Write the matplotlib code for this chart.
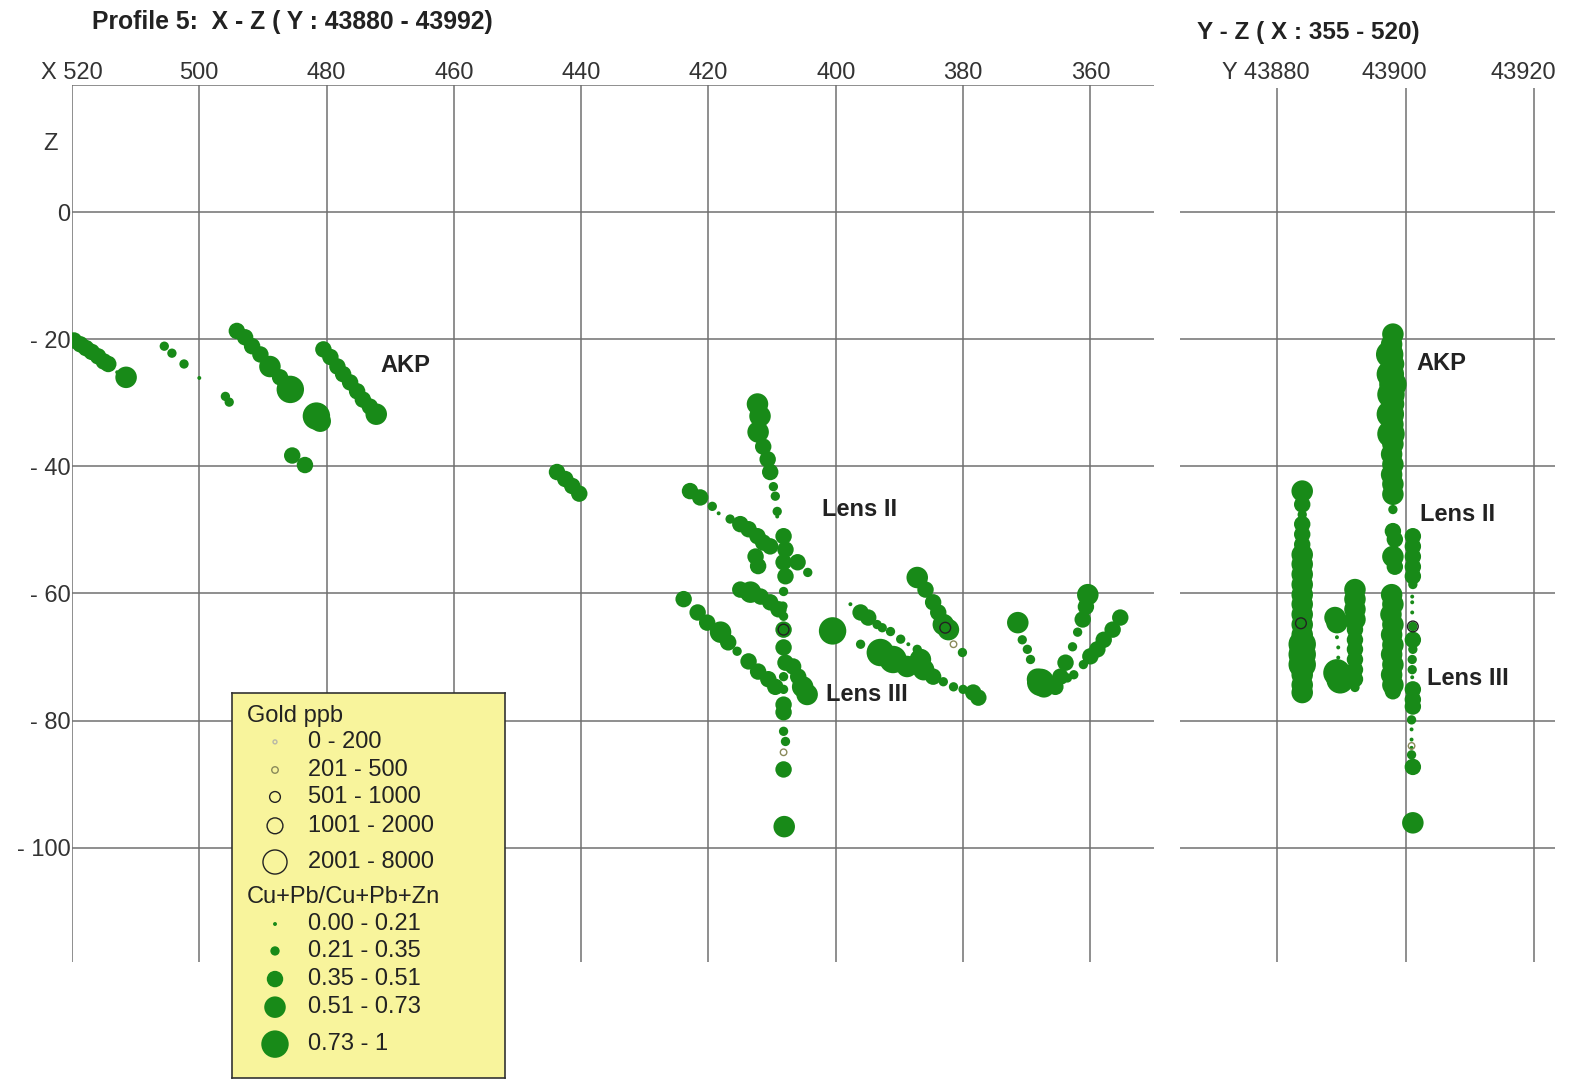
import numpy as np
import matplotlib
matplotlib.use('Agg')
import matplotlib.pyplot as plt
import matplotlib.transforms as mtransforms

plt.rcParams['font.family'] = ['Liberation Sans', 'DejaVu Sans']

# ---- X-Z profile: drill-hole samples (X, Z, Cu+Pb/Cu+Pb+Zn class 0..4)
xz_x = [519.7, 518.7, 517.8, 516.9, 515.9, 515.0, 514.3, 512.9, 511.5,
        505.5, 504.3, 502.4, 500.0, 495.9, 495.3,
        494.1, 492.8, 491.7, 490.4, 488.9, 487.3, 485.7, 481.6, 481.0,
        485.4, 483.4,
        480.5, 479.4, 478.3, 477.4, 476.3, 475.2, 474.3, 473.2, 472.2,
        443.8, 442.5, 441.4, 440.3,
        412.3, 411.9, 412.2, 411.4, 410.7, 410.3, 409.8, 409.5, 409.2, 409.2,
        422.9, 421.3, 419.4, 418.4, 416.6, 415.0, 413.7, 412.3, 411.4, 410.3,
        412.6, 412.2,
        408.2, 407.9, 408.2, 407.9, 408.2, 408.3, 408.2, 408.2, 407.9, 408.2,
        408.2, 408.2, 408.2, 408.2, 407.9, 408.2, 408.1, 406.0, 404.4, 408.2,
        415.0, 413.4, 411.8, 410.3, 409.0,
        423.9, 421.7, 420.2, 418.1, 416.9, 415.5, 413.7, 412.2, 410.6, 409.5,
        406.7, 405.9, 405.2, 404.5,
        400.5,
        397.7, 396.1, 394.9, 393.5, 392.7, 391.4, 389.8, 388.6, 387.2, 396.1,
        393.0, 391.0, 388.8, 386.7, 386.2, 384.7, 383.1, 381.5, 380.0, 378.4,
        377.6,
        387.2, 385.9, 384.7, 383.9, 383.1, 382.3, 380.1,
        371.4, 370.7, 369.9, 369.4, 368.3, 367.8, 367.3,
        360.4, 360.7, 361.2, 362.0, 362.8, 363.9, 364.7, 365.5,
        355.3, 356.5, 357.9, 358.9, 360.0, 361.1, 362.6, 363.6]
xz_z = [-20.2, -20.8, -21.4, -22.0, -22.7, -23.5, -23.9, -25.2, -26.0,
        -21.1, -22.2, -23.9, -26.1, -29.0, -29.9,
        -18.7, -19.7, -21.1, -22.4, -24.3, -26.0, -27.9, -32.1, -32.9,
        -38.3, -39.8,
        -21.6, -22.8, -24.3, -25.5, -26.8, -28.2, -29.5, -30.6, -31.8,
        -40.9, -42.0, -43.1, -44.3,
        -30.2, -32.1, -34.6, -36.9, -38.9, -40.9, -43.2, -44.7, -47.1, -47.9,
        -43.9, -44.9, -46.3, -47.4, -48.3, -49.1, -49.9, -51.0, -52.0, -52.6,
        -54.2, -55.7,
        -51.0, -53.1, -55.1, -57.3, -59.7, -62.0, -63.6, -68.5, -70.9, -73.1,
        -75.1, -77.5, -78.7, -81.7, -83.3, -87.7, -96.7, -55.1, -56.7, -65.7,
        -59.4, -59.8, -60.5, -61.4, -62.5,
        -60.9, -63.0, -64.6, -66.1, -67.7, -69.1, -70.7, -72.3, -73.5, -74.7,
        -71.5, -73.1, -74.7, -75.9,
        -65.9,
        -61.7, -63.0, -63.8, -64.9, -65.4, -66.0, -67.2, -68.0, -68.8, -68.0,
        -69.3, -70.4, -71.5, -70.4, -72.0, -73.1, -73.9, -74.7, -75.1, -75.6,
        -76.4,
        -57.5, -59.4, -61.4, -63.0, -64.9, -65.7, -69.3,
        -64.6, -67.3, -68.8, -70.4, -73.5, -74.0, -74.7,
        -60.2, -62.1, -64.1, -66.1, -68.4, -70.9, -73.1, -74.7,
        -63.8, -65.7, -67.3, -68.8, -69.9, -71.2, -72.8, -73.3]
xz_cls = [2, 2, 2, 2, 2, 2, 2, 0, 3,
          1, 1, 1, 0, 1, 1,
          2, 2, 2, 2, 3, 2, 4, 4, 3,
          2, 2,
          2, 2, 2, 2, 2, 2, 2, 2, 3,
          2, 2, 2, 2,
          3, 3, 3, 2, 2, 2, 1, 1, 1, 0,
          2, 2, 1, 0, 1, 2, 2, 2, 2, 2,
          2, 2,
          2, 2, 2, 2, 1, 1, 1, 2, 2, 1,
          1, 2, 2, 1, 1, 2, 3, 2, 1, 2,
          2, 3, 2, 2, 2,
          2, 2, 2, 3, 2, 1, 2, 2, 2, 2,
          2, 2, 3, 3,
          4,
          0, 2, 2, 1, 1, 1, 1, 0, 1, 1,
          4, 4, 3, 3, 3, 2, 1, 1, 1, 2,
          2,
          3, 2, 2, 2, 3, 3, 1,
          3, 1, 1, 1, 3, 4, 3,
          3, 2, 2, 1, 1, 2, 2, 2,
          2, 2, 2, 2, 2, 1, 1, 1]

# gold ppb (X, Z, class 0..4)
xz_au_x = [408.2, 382.8, 381.5, 408.2]
xz_au_z = [-65.7, -65.4, -68.0, -85.0]
xz_au_cls = [2, 2, 1, 1]

# ---- Y-Z profile
yz_y = [43898.0, 43897.8, 43897.5, 43898.1, 43897.6, 43898.0, 43897.7, 43898.1,
        43897.6, 43898.0, 43897.7, 43898.0, 43897.8, 43898.0, 43897.8, 43898.0,
        43898.0, 43898.0, 43898.0, 43898.3, 43898.0, 43898.3,
        43897.8, 43898.0, 43897.7, 43898.0, 43897.8, 43898.0, 43897.8, 43898.0,
        43897.8, 43898.0, 43898.0,
        43901.1, 43901.1, 43901.1, 43901.1, 43901.1, 43901.1, 43901.0, 43901.0,
        43901.0, 43901.1, 43901.1, 43901.0, 43901.0, 43901.0, 43901.1, 43901.1,
        43901.1, 43900.9, 43900.9, 43900.9, 43900.9, 43900.9, 43901.1, 43901.1,
        43901.1,
        43883.9, 43883.9, 43883.9, 43883.9, 43883.9, 43883.9, 43883.9, 43883.9,
        43883.9, 43883.9, 43883.9, 43883.9, 43883.9, 43883.9, 43883.9, 43883.9,
        43883.9, 43883.9, 43883.9, 43883.9, 43883.9,
        43889.0, 43889.3, 43889.3, 43889.5, 43889.5, 43889.3, 43889.8,
        43892.1, 43892.1, 43892.1, 43892.1, 43892.1, 43892.1, 43892.1, 43892.1,
        43892.1, 43892.1, 43892.1]
yz_z = [-19.2, -20.8, -22.4, -23.9, -25.5, -27.1, -28.7, -30.2,
        -31.8, -33.4, -34.9, -36.5, -38.1, -39.7, -41.3, -42.8,
        -44.4, -46.8, -50.2, -51.5, -54.2, -55.8,
        -60.2, -61.7, -63.3, -64.9, -66.5, -68.1, -69.6, -71.2,
        -72.8, -74.4, -75.4,
        -51.0, -52.6, -54.2, -55.8, -57.3, -58.6, -60.5, -61.4,
        -63.0, -67.3, -68.8, -70.4, -72.0, -73.2, -75.1, -76.7,
        -77.8, -79.9, -81.4, -83.0, -84.3, -85.4, -87.3, -96.1,
        -65.2,
        -43.9, -46.0, -47.6, -49.1, -50.7, -52.3, -53.9, -55.4,
        -57.0, -58.6, -60.2, -61.7, -63.3, -64.9, -66.5, -68.0,
        -69.6, -71.2, -72.8, -74.4, -75.6,
        -63.8, -64.6, -66.9, -68.5, -70.1, -72.5, -73.6,
        -59.4, -60.9, -62.5, -64.1, -65.7, -67.3, -68.8, -70.4,
        -72.0, -73.5, -74.8]
yz_cls = [3, 3, 4, 3, 4, 4, 4, 3,
          4, 3, 4, 3, 3, 3, 3, 3,
          3, 1, 2, 2, 3, 2,
          3, 3, 3, 3, 3, 3, 3, 3,
          3, 3, 2,
          2, 2, 2, 2, 2, 1, 0, 0,
          0, 2, 1, 1, 1, 0, 2, 2,
          2, 1, 0, 0, 0, 1, 2, 3,
          1,
          3, 2, 1, 2, 2, 2, 3, 3,
          3, 3, 3, 3, 3, 3, 3, 4,
          4, 4, 3, 3, 3,
          3, 3, 0, 0, 0, 4, 4,
          3, 3, 3, 3, 2, 2, 2, 2,
          2, 2, 1]

yz_au_y = [43901.1, 43883.7, 43900.9]
yz_au_z = [-65.2, -64.7, -84.0]
yz_au_cls = [2, 2, 1]

# legend classes
gold_labels = ['0 - 200', '201 - 500', '501 - 1000', '1001 - 2000', '2001 - 8000']
ratio_labels = ['0.00 - 0.21', '0.21 - 0.35', '0.35 - 0.51', '0.51 - 0.73', '0.73 - 1']

x_ticks = [520, 500, 480, 460, 440, 420, 400, 380, 360]
x_ticklabels = ['X 520', '500', '480', '460', '440', '420', '400', '380', '360']
y_ticks = [43880, 43900, 43920]
y_ticklabels = ['Y 43880', '43900', '43920']
z_ticks = [0, -20, -40, -60, -80, -100]
z_ticklabels = ['0', '- 20', '- 40', '- 60', '- 80', '- 100']

# styles
green = '#188a18'
ratio_size = [8, 45, 140, 240, 390]
gold_size = [8, 22, 60, 130, 300]
gold_edge = ['#b8b8a8', '#8a8a5a', '#222222', '#222222', '#222222']
grid_c = '#707070'
fs = 17

W, H = 1569, 1085
fig = plt.figure(figsize=(W / 100, H / 100), dpi=100)
fig.patch.set_facecolor('white')


def frame(ax, xt, xl, top_line):
    ax.set_facecolor('none')
    for s in ax.spines.values():
        s.set_visible(False)
    ax.set_ylim(-118, 20)
    for v in xt:
        ax.plot([v, v], [-118, 20 if top_line else 19.5], color=grid_c, lw=1.1,
                zorder=1, solid_capstyle='butt')
    hl = z_ticks + ([20] if top_line else [])
    for h in hl:
        ax.axhline(h, color=grid_c, lw=1.1, zorder=1)
    ax.xaxis.tick_top()
    ax.set_xticks(xt)
    ax.set_xticklabels(xl)
    ax.tick_params(length=0, labelsize=fs, labelcolor='#333333', pad=1)


def draw_points(ax, px, pz, cls, ax_x, az, acls):
    ax.scatter(px, pz, s=[ratio_size[c] for c in cls], color=green,
               edgecolors='none', zorder=3)
    ax.scatter(ax_x, az, s=[gold_size[c] for c in acls], facecolors='none',
               edgecolors=[gold_edge[c] for c in acls], linewidths=1.0, zorder=4)


# left panel X-Z
ax1 = fig.add_axes([72 / W, 1 - 962 / H, 1082 / W, 877 / H])
ax1.set_xlim(520, 350)
frame(ax1, x_ticks, x_ticklabels, True)
ax1.set_yticks(z_ticks)
ax1.set_yticklabels(z_ticklabels)
ax1.text(522.3, 10.7, 'Z', ha='right', va='center', fontsize=fs, color='#333333')
draw_points(ax1, xz_x, xz_z, xz_cls, xz_au_x, xz_au_z, xz_au_cls)
ax1.text(471.6, -24.2, 'AKP', fontsize=fs, fontweight='bold', va='center', color='#222222')
ax1.text(402.1, -46.8, 'Lens II', fontsize=fs, fontweight='bold', va='center', color='#222222')
ax1.text(401.5, -75.9, 'Lens III', fontsize=fs, fontweight='bold', va='center', color='#222222')

# right panel Y-Z
ax2 = fig.add_axes([1180 / W, 1 - 962 / H, 375 / W, 877 / H])
ax2.set_xlim(43864.9, 43923.2)
frame(ax2, y_ticks, y_ticklabels, False)
ax2.set_yticks([])
shift = mtransforms.ScaledTranslation(-11 / 100, 0, fig.dpi_scale_trans)
for lab in ax2.get_xticklabels():
    lab.set_transform(lab.get_transform() + shift)
draw_points(ax2, yz_y, yz_z, yz_cls, yz_au_y, yz_au_z, yz_au_cls)
ax2.text(43901.6, -23.8, 'AKP', fontsize=fs, fontweight='bold', va='center', color='#222222')
ax2.text(43902.2, -47.6, 'Lens II', fontsize=fs, fontweight='bold', va='center', color='#222222')
ax2.text(43903.3, -73.4, 'Lens III', fontsize=fs, fontweight='bold', va='center', color='#222222')

# titles
fig.text(92 / W, 1 - 22 / H, 'Profile 5:  X - Z ( Y : 43880 - 43992)', fontsize=17.8,
         fontweight='bold', va='center', ha='left', color='#222222')
fig.text(1197 / W, 1 - 33 / H, 'Y - Z ( X : 355 - 520)', fontsize=17.5,
         fontweight='bold', va='center', ha='left', color='#222222')

# legend box
lg = fig.add_axes([232 / W, 1 - 1078 / H, 273 / W, 385 / H])
lg.set_facecolor('#f8f49c')
lg.set_xlim(0, 1)
lg.set_ylim(0, 1)
lg.set_xticks([])
lg.set_yticks([])
for s in lg.spines.values():
    s.set_color('#333333')
    s.set_linewidth(1.2)
gold_rows = [0.873, 0.800, 0.730, 0.655, 0.561]
ratio_rows = [0.400, 0.330, 0.257, 0.184, 0.088]
lg.text(0.055, 0.940, 'Gold ppb', fontsize=fs, va='center', color='#222222')
lg.text(0.055, 0.470, 'Cu+Pb/Cu+Pb+Zn', fontsize=fs, va='center', color='#222222')
lg.scatter([0.1575] * 5, gold_rows, s=gold_size, facecolors='none',
           edgecolors=gold_edge, linewidths=1.0)
lg.scatter([0.1575] * 5, ratio_rows, s=ratio_size, color=green, edgecolors='none')
for r, t in zip(gold_rows, gold_labels):
    lg.text(0.278, r, t, fontsize=fs, va='center', color='#222222')
for r, t in zip(ratio_rows, ratio_labels):
    lg.text(0.278, r, t, fontsize=fs, va='center', color='#222222')

fig.savefig('out.png', dpi=100, facecolor='white')
